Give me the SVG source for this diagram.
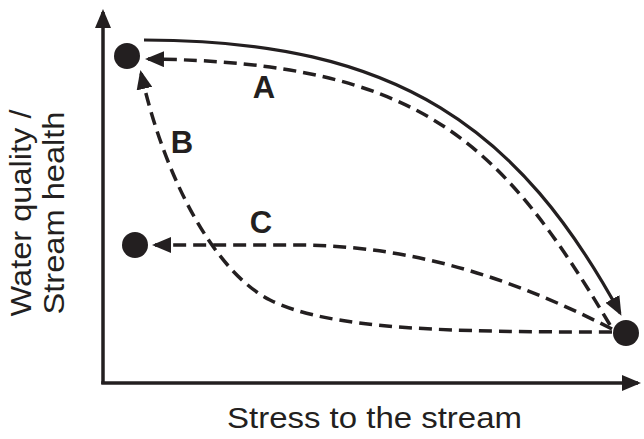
<svg xmlns="http://www.w3.org/2000/svg" width="644" height="439" viewBox="0 0 644 439">
<style>
.axis{stroke:#231f20;stroke-width:3.5;fill:none}
.solid{stroke:#231f20;stroke-width:3.2;fill:none}
.dash{stroke:#231f20;stroke-width:3.5;fill:none;stroke-dasharray:13 7}
.dot{fill:#231f20}
.lbl{font-family:"Liberation Sans",Arial,sans-serif;font-weight:bold;font-size:31px;fill:#231f20;text-anchor:middle}
.ax{font-family:"Liberation Sans",Arial,sans-serif;font-size:29px;fill:#231f20;text-anchor:middle}
</style>
<defs>
<marker id="ah" markerUnits="userSpaceOnUse" markerWidth="19" markerHeight="16" viewBox="0 0 19 16" refX="16" refY="8" orient="auto">
<path d="M0 0 L19 8 L0 16 z" fill="#231f20"/>
</marker>
</defs>
<g id="axes">
<line class="axis" x1="103" y1="384" x2="103" y2="12" marker-end="url(#ah)"/>
<line class="axis" x1="101.25" y1="383" x2="638" y2="383" marker-end="url(#ah)"/>
</g>
<g id="connectors">
<path class="solid" d="M144 40 C400 40 520 130 620 313" marker-end="url(#ah)"/>
<path class="dash" d="M610 325 C500 140 420 62 148 59" marker-end="url(#ah)"/>
<path class="dash" d="M612 332 C450 332 330 330 270 300 C215 272 165 180 141 73" marker-end="url(#ah)"/>
<path class="dash" d="M612 329 C520 282 420 246 300 245 L155 245" marker-end="url(#ah)"/>
</g>
<g id="node-start"><circle class="dot" cx="127" cy="56" r="13"/></g>
<g id="node-c"><circle class="dot" cx="135" cy="245" r="13"/></g>
<g id="node-end"><circle class="dot" cx="626" cy="333" r="13"/></g>
<g id="labels">
<text class="lbl" x="264" y="98">A</text>
<text class="lbl" x="182" y="153">B</text>
<text class="lbl" x="261" y="233">C</text>
<text class="ax" x="374.5" y="428" textLength="295" lengthAdjust="spacingAndGlyphs">Stress to the stream</text>
<text class="ax" transform="rotate(-90)" x="-213" y="31" textLength="207" lengthAdjust="spacingAndGlyphs">Water quality /</text>
<text class="ax" transform="rotate(-90)" x="-213" y="64" textLength="203" lengthAdjust="spacingAndGlyphs">Stream health</text>
</g>
</svg>
